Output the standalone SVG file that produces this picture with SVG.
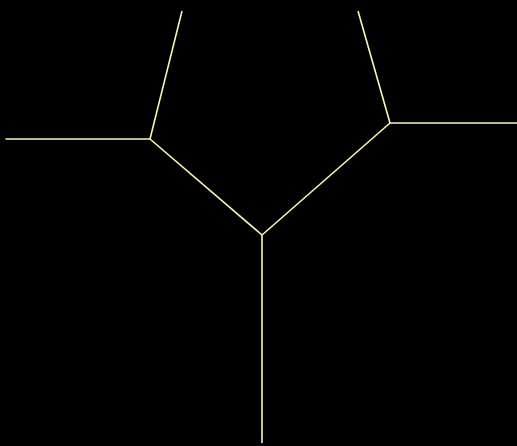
<svg xmlns="http://www.w3.org/2000/svg" width="517" height="446" viewBox="0 0 517 446">
<style>
.e{stroke:#fdf8b0;stroke-width:1.6;fill:none;stroke-linecap:butt}
</style>
<rect width="517" height="446" fill="#000"/>
<g id="connectors">
<line class="e" x1="182" y1="11" x2="150" y2="139"/>
<line class="e" x1="5.5" y1="139" x2="150" y2="139"/>
<line class="e" x1="150" y1="139" x2="262" y2="235"/>
<line class="e" x1="262" y1="235" x2="262" y2="443"/>
<line class="e" x1="262" y1="235" x2="390" y2="123"/>
<line class="e" x1="390" y1="123" x2="517" y2="123"/>
<line class="e" x1="390" y1="123" x2="358" y2="11"/>
</g>
</svg>
